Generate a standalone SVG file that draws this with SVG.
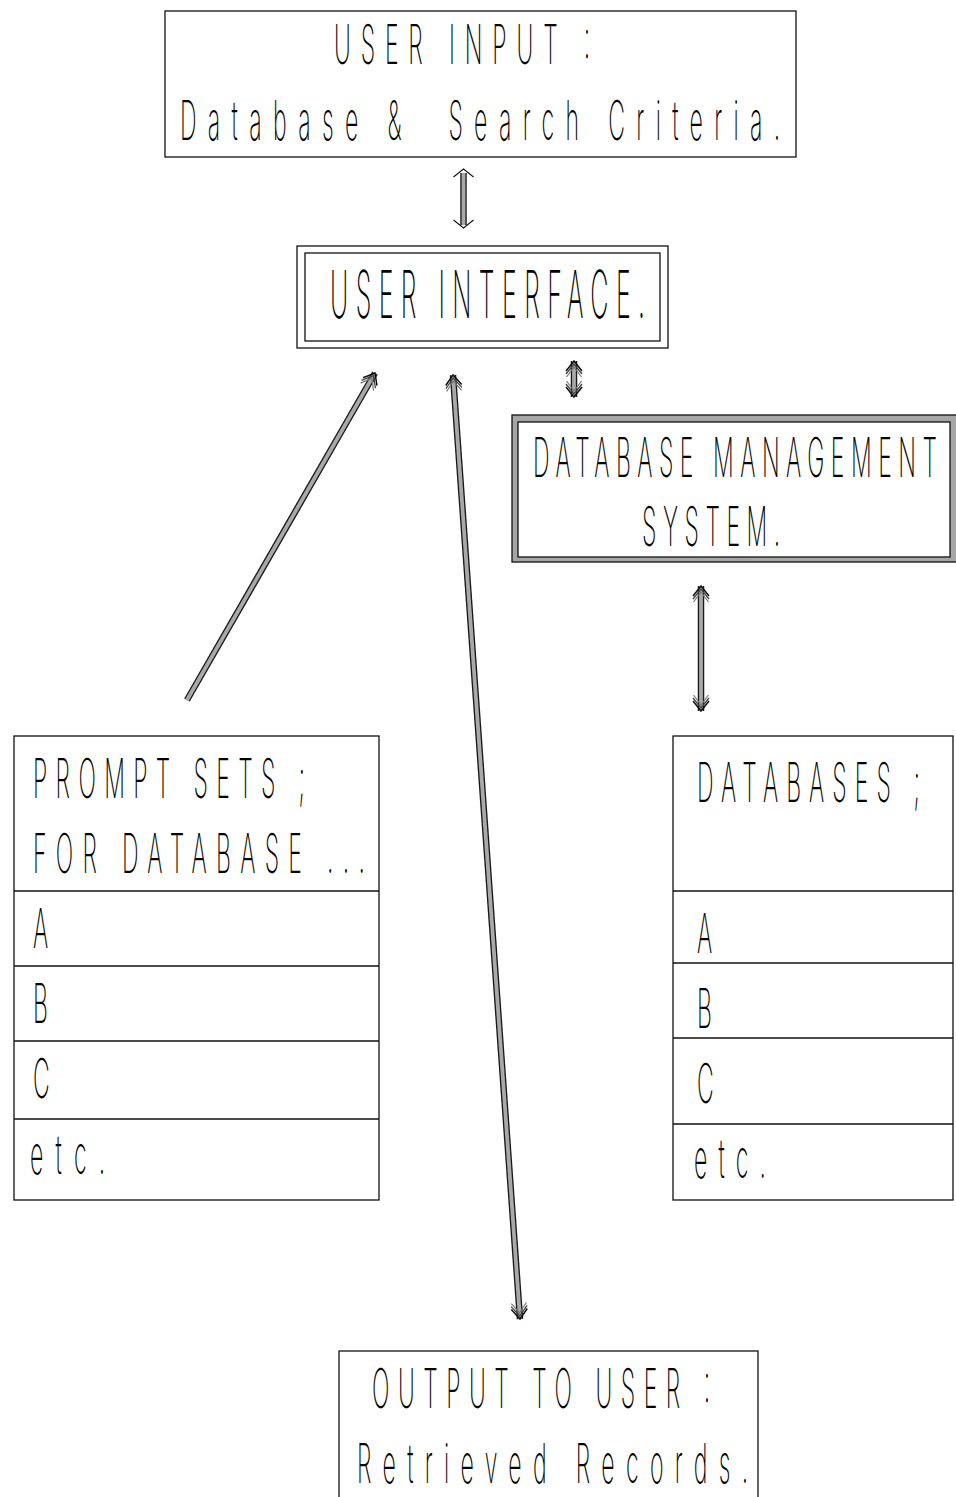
<svg xmlns="http://www.w3.org/2000/svg" width="956" height="1497" viewBox="0 0 956 1497">
  <defs>
    <style>
      .box { fill: #fff; stroke: #111; stroke-width: 1.3; }
      .rule { stroke: #111; stroke-width: 1.3; }
      .t { font-family: Inter, Roboto, "DejaVu Sans", sans-serif; font-weight: 200; font-size: 55px; fill: #000; opacity: 0.99; }
      .big { font-size: 66px; }
      .shaft-o { stroke: #1a1a1a; stroke-width: 6.5; fill: none; }
      .shaft-i { stroke: #a9a9a9; stroke-width: 3.8; fill: none; }
    </style>
    <!-- hatched chevron head used on the heavy connectors -->
    <marker id="head" markerUnits="userSpaceOnUse" viewBox="-18 -10 22 20" markerWidth="22" markerHeight="20" refX="0" refY="0" orient="auto-start-reverse" overflow="visible">
      <path d="M-10,-8 L0,0 L-10,8" fill="none" stroke="#111" stroke-width="1.5"/>
      <path d="M-13,-8 L-3,0 L-13,8" fill="none" stroke="#444" stroke-width="1.3"/>
      <path d="M-16,-7.5 L-6,0 L-16,7.5" fill="none" stroke="#777" stroke-width="1.2"/>
    </marker>
    <!-- plain open chevron head -->
    <marker id="thin" markerUnits="userSpaceOnUse" viewBox="-12 -12 14 24" markerWidth="14" markerHeight="24" refX="0" refY="0" orient="auto-start-reverse" overflow="visible">
      <path d="M-8,-10 L0,0 L-8,10" fill="none" stroke="#111" stroke-width="1.1"/>
    </marker>
  </defs>

  <rect width="956" height="1497" fill="#fff"/>

  <!-- connectors -->
  <g id="connectors">
    <g id="c-input-ui">
      <line class="shaft-o" x1="463.5" y1="173" x2="463.5" y2="225"/>
      <line class="shaft-i" x1="463.5" y1="173" x2="463.5" y2="225"/>
      <line x1="463.5" y1="169" x2="463.5" y2="228" stroke="none" marker-start="url(#thin)" marker-end="url(#thin)"/>
    </g>
    <g id="c-prompts-ui">
      <line class="shaft-o" x1="187" y1="700" x2="375" y2="373"/>
      <line class="shaft-i" x1="187" y1="700" x2="375" y2="373" marker-end="url(#head)"/>
    </g>
    <g id="c-ui-output">
      <line class="shaft-o" x1="453" y1="375" x2="520" y2="1319"/>
      <line class="shaft-i" x1="453" y1="375" x2="520" y2="1319" marker-start="url(#head)" marker-end="url(#head)"/>
    </g>
    <g id="c-ui-dbms">
      <line class="shaft-o" x1="574" y1="361" x2="574" y2="397"/>
      <line class="shaft-i" x1="574" y1="361" x2="574" y2="397" marker-start="url(#head)" marker-end="url(#head)"/>
    </g>
    <g id="c-dbms-databases">
      <line class="shaft-o" x1="701" y1="586" x2="701" y2="711"/>
      <line class="shaft-i" x1="701" y1="586" x2="701" y2="711" marker-start="url(#head)" marker-end="url(#head)"/>
    </g>
  </g>

  <!-- user input -->
  <g id="user-input">
    <rect class="box" x="165" y="11" width="631" height="146"/>
    <text class="t" transform="translate(334 64) scale(0.42 1)" textLength="610" lengthAdjust="spacing">USER INPUT :</text>
    <text class="t" transform="translate(180 140) scale(0.42 1)" textLength="1429" lengthAdjust="spacing" style="white-space:pre">Database &amp;  Search Criteria.</text>
  </g>

  <!-- user interface -->
  <g id="user-interface">
    <rect class="box" x="297" y="246" width="371" height="102"/>
    <rect class="box" x="305" y="253" width="355" height="88"/>
    <text class="t big" transform="translate(330 318) scale(0.38 1)" textLength="829" lengthAdjust="spacing">USER INTERFACE.</text>
  </g>

  <!-- database management system -->
  <g id="dbms">
    <rect x="512" y="415" width="450" height="147" fill="#a6a6a6" stroke="#111" stroke-width="1.3"/>
    <rect class="box" x="518" y="422" width="432" height="135"/>
    <text class="t" transform="translate(533 477) scale(0.42 1)" textLength="962" lengthAdjust="spacing">DATABASE MANAGEMENT</text>
    <text class="t" transform="translate(642 546) scale(0.42 1)" textLength="329" lengthAdjust="spacing">SYSTEM.</text>
  </g>

  <!-- prompt sets -->
  <g id="prompt-sets">
    <rect class="box" x="14" y="736" width="365" height="464"/>
    <line class="rule" x1="14" y1="891" x2="379" y2="891"/>
    <line class="rule" x1="14" y1="966" x2="379" y2="966"/>
    <line class="rule" x1="14" y1="1041" x2="379" y2="1041"/>
    <line class="rule" x1="14" y1="1119" x2="379" y2="1119"/>
    <text class="t" transform="translate(33 798) scale(0.42 1)" textLength="648" lengthAdjust="spacing">PROMPT SETS ;</text>
    <text class="t" transform="translate(33 873) scale(0.42 1)" textLength="790" lengthAdjust="spacing">FOR DATABASE ...</text>
    <text class="t" transform="translate(33 948) scale(0.42 1)">A</text>
    <text class="t" transform="translate(33 1023) scale(0.42 1)">B</text>
    <text class="t" transform="translate(33 1098) scale(0.42 1)">C</text>
    <text class="t" transform="translate(30 1174) scale(0.42 1)" textLength="179" lengthAdjust="spacing">etc.</text>
  </g>

  <!-- databases -->
  <g id="databases">
    <rect class="box" x="673" y="736" width="280" height="464"/>
    <line class="rule" x1="673" y1="891" x2="953" y2="891"/>
    <line class="rule" x1="673" y1="963" x2="953" y2="963"/>
    <line class="rule" x1="673" y1="1038" x2="953" y2="1038"/>
    <line class="rule" x1="673" y1="1124" x2="953" y2="1124"/>
    <text class="t" transform="translate(697 802) scale(0.42 1)" textLength="531" lengthAdjust="spacing">DATABASES ;</text>
    <text class="t" transform="translate(697 953) scale(0.42 1)">A</text>
    <text class="t" transform="translate(697 1028) scale(0.42 1)">B</text>
    <text class="t" transform="translate(697 1103) scale(0.42 1)">C</text>
    <text class="t" transform="translate(694 1178) scale(0.42 1)" textLength="171" lengthAdjust="spacing">etc.</text>
  </g>

  <!-- output to user -->
  <g id="output">
    <rect class="box" x="339" y="1351" width="419" height="170"/>
    <text class="t" transform="translate(372 1408) scale(0.42 1)" textLength="805" lengthAdjust="spacing">OUTPUT TO USER :</text>
    <text class="t" transform="translate(357 1483) scale(0.42 1)" textLength="931" lengthAdjust="spacing">Retrieved Records.</text>
  </g>
</svg>
